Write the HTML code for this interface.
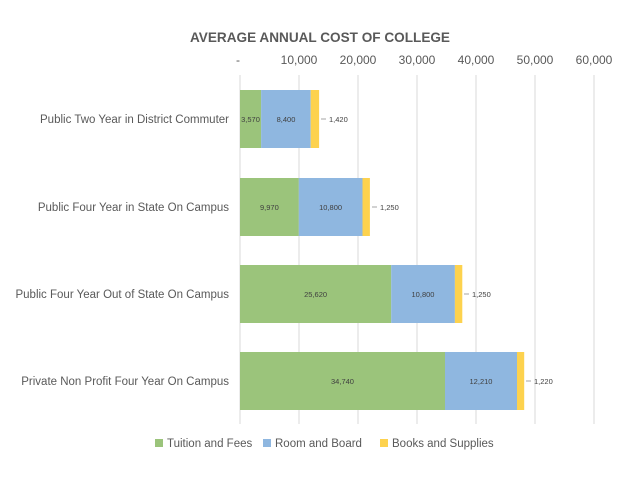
<!DOCTYPE html>
<html><head><style>
body{margin:0;background:#fff;}
svg{font-family:"Liberation Sans",sans-serif;}
</style></head><body>
<svg width="640" height="480" viewBox="0 0 640 480" xmlns="http://www.w3.org/2000/svg">
<rect width="640" height="480" fill="#fff"/>
<text x="320" y="42" text-anchor="middle" font-size="14" font-weight="bold" fill="#595959" textLength="260" lengthAdjust="spacingAndGlyphs">AVERAGE ANNUAL COST OF COLLEGE</text>
<g stroke="#d9d9d9" stroke-width="1">
<line x1="299" y1="75" x2="299" y2="424"/>
<line x1="358" y1="75" x2="358" y2="424"/>
<line x1="417" y1="75" x2="417" y2="424"/>
<line x1="476" y1="75" x2="476" y2="424"/>
<line x1="535" y1="75" x2="535" y2="424"/>
<line x1="594" y1="75" x2="594" y2="424"/>
<line x1="240" y1="75" x2="240" y2="424"/>
</g>
<g font-size="12" fill="#595959" text-anchor="middle">
<text x="238" y="64">-</text>
<text x="299" y="64">10,000</text>
<text x="358" y="64">20,000</text>
<text x="417" y="64">30,000</text>
<text x="476" y="64">40,000</text>
<text x="535" y="64">50,000</text>
<text x="594" y="64">60,000</text>
</g>
<g font-size="11.5" fill="#595959" text-anchor="end">
<text x="229" y="123">Public Two Year in District Commuter</text>
<text x="229" y="211">Public Four Year in State On Campus</text>
<text x="229" y="298">Public Four Year Out of State On Campus</text>
<text x="229" y="385">Private Non Profit Four Year On Campus</text>
</g>
<rect x="240" y="90" width="21.1" height="58" fill="#9bc47b"/>
<rect x="261.1" y="90" width="49.6" height="58" fill="#8fb7e0"/>
<rect x="310.7" y="90" width="8.4" height="58" fill="#fdd24e"/>
<rect x="240" y="178" width="58.8" height="58" fill="#9bc47b"/>
<rect x="298.8" y="178" width="63.7" height="58" fill="#8fb7e0"/>
<rect x="362.5" y="178" width="7.4" height="58" fill="#fdd24e"/>
<rect x="240" y="265" width="151.2" height="58" fill="#9bc47b"/>
<rect x="391.2" y="265" width="63.7" height="58" fill="#8fb7e0"/>
<rect x="454.9" y="265" width="7.4" height="58" fill="#fdd24e"/>
<rect x="240" y="352" width="205" height="58" fill="#9bc47b"/>
<rect x="445" y="352" width="72" height="58" fill="#8fb7e0"/>
<rect x="517" y="352" width="7.2" height="58" fill="#fdd24e"/>
<g font-size="7.5" fill="#404040" text-anchor="middle">
<text x="250.5" y="122">3,570</text>
<text x="286" y="122">8,400</text>
<text x="269.4" y="210">9,970</text>
<text x="330.6" y="210">10,800</text>
<text x="315.6" y="297">25,620</text>
<text x="423" y="297">10,800</text>
<text x="342.5" y="384">34,740</text>
<text x="481" y="384">12,210</text>
</g>
<g stroke="#a6a6a6" stroke-width="1">
<line x1="321" y1="119" x2="326" y2="119"/>
<line x1="372" y1="207" x2="377" y2="207"/>
<line x1="464" y1="294" x2="469" y2="294"/>
<line x1="526" y1="381" x2="531" y2="381"/>
</g>
<g font-size="7.5" fill="#404040">
<text x="329" y="122">1,420</text>
<text x="380" y="210">1,250</text>
<text x="472" y="297">1,250</text>
<text x="534" y="384">1,220</text>
</g>
<g font-size="11.5" fill="#595959">
<rect x="155" y="439" width="8" height="8" fill="#9bc47b"/>
<text x="167" y="447">Tuition and Fees</text>
<rect x="263" y="439" width="8" height="8" fill="#8fb7e0"/>
<text x="275" y="447">Room and Board</text>
<rect x="380" y="439" width="8" height="8" fill="#fdd24e"/>
<text x="392" y="447">Books and Supplies</text>
</g>
</svg>
</body></html>
